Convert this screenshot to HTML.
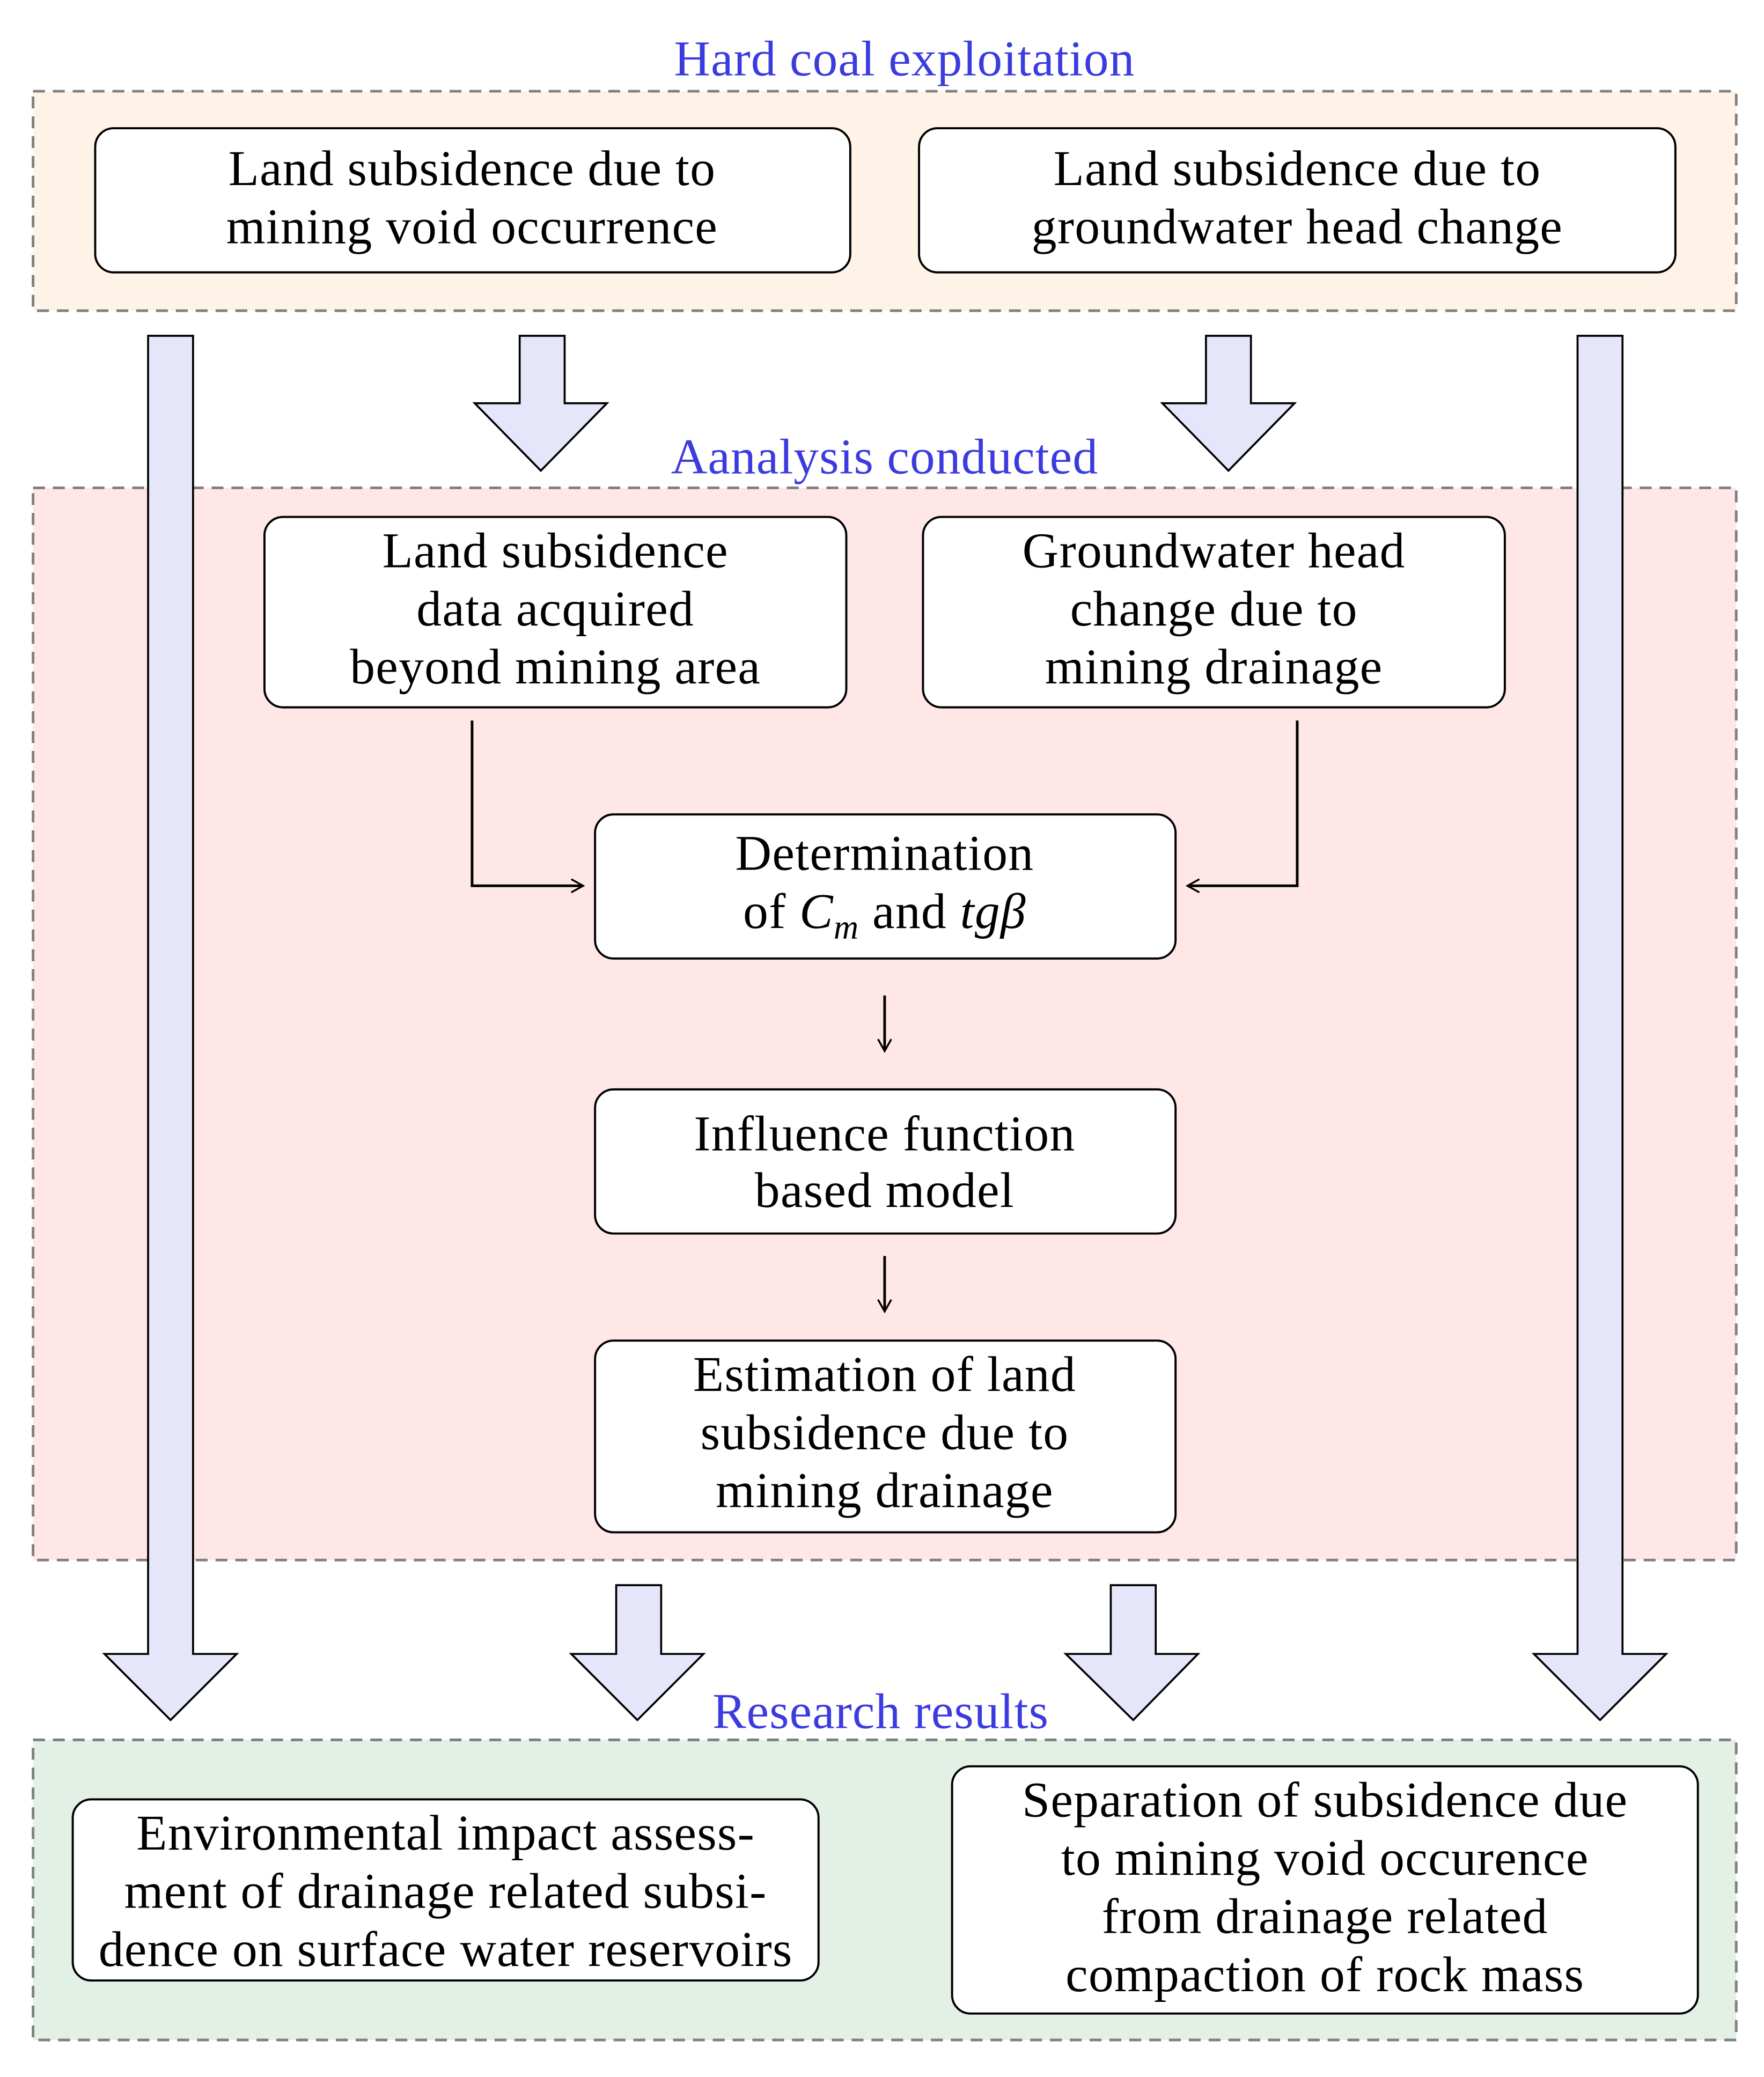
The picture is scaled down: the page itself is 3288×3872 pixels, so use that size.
<!DOCTYPE html>
<html><head><meta charset="utf-8"><style>
html,body{margin:0;padding:0;background:#fff;}
svg{display:block;}
text{font-family:"Liberation Serif",serif;font-size:38px;fill:#000;letter-spacing:0.5px;}
.t{fill:#3b3be0;font-size:38px;letter-spacing:0.4px;}
.n{fill:#fff;stroke:#000;stroke-width:1.6;}
.g{stroke:#808080;stroke-width:2;stroke-dasharray:9 6;}
.a{fill:#e6e6fb;stroke:#000;stroke-width:1.5;stroke-linejoin:miter;}
</style></head><body>
<svg width="3288" height="3872" viewBox="0 0 1334 1571" preserveAspectRatio="none">
<rect x="0" y="0" width="1334" height="1571" fill="#fff"/>
<rect class="g" x="25" y="69" width="1288" height="166" fill="#fff3e8"/>
<rect class="g" x="25" y="369" width="1288" height="811" fill="#ffe6e7"/>
<rect class="g" x="25" y="1316" width="1288" height="227" fill="#e2f0e5"/>
<text class="t" x="684" y="57" text-anchor="middle">Hard coal exploitation</text>
<text class="t" x="669" y="358" text-anchor="middle">Aanalysis conducted</text>
<text class="t" x="666" y="1307" text-anchor="middle">Research results</text>
<path class="a" d="M112,254 H146 V1251 H179 L129,1301 L79,1251 H112 Z"/>
<path class="a" d="M1193,254 H1227 V1251 H1260 L1210,1301 L1160,1251 H1193 Z"/>
<path class="a" d="M393,254 H427 V305 H459 L409,356 L359,305 H393 Z"/>
<path class="a" d="M912,254 H946 V305 H979 L929,356 L879,305 H912 Z"/>
<path class="a" d="M466,1199 H500 V1251 H532 L482,1301 L432,1251 H466 Z"/>
<path class="a" d="M840,1199 H874 V1251 H906 L857,1301 L806,1251 H840 Z"/>
<rect class="n" x="72" y="97" width="571" height="109" rx="14"/>
<text x="357" y="140" text-anchor="middle">Land subsidence due to</text>
<text x="357" y="184" text-anchor="middle">mining void occurrence</text>
<rect class="n" x="695" y="97" width="572" height="109" rx="14"/>
<text x="981" y="140" text-anchor="middle">Land subsidence due to</text>
<text x="981" y="184" text-anchor="middle">groundwater head change</text>
<rect class="n" x="200" y="391" width="440" height="144" rx="14"/>
<text x="420" y="429" text-anchor="middle">Land subsidence</text>
<text x="420" y="473" text-anchor="middle">data acquired</text>
<text x="420" y="517" text-anchor="middle">beyond mining area</text>
<rect class="n" x="698" y="391" width="440" height="144" rx="14"/>
<text x="918" y="429" text-anchor="middle">Groundwater head</text>
<text x="918" y="473" text-anchor="middle">change due to</text>
<text x="918" y="517" text-anchor="middle">mining drainage</text>
<path d="M357,545 V670 H440" fill="none" stroke="#000" stroke-width="2"/>
<path d="M432,665 L441,670 L432,675" fill="none" stroke="#000" stroke-width="1.4"/>
<path d="M981,545 V670 H899" fill="none" stroke="#000" stroke-width="2"/>
<path d="M907,665 L898,670 L907,675" fill="none" stroke="#000" stroke-width="1.4"/>
<rect class="n" x="450" y="616" width="439" height="109" rx="14"/>
<text x="669" y="658" text-anchor="middle">Determination</text>
<text x="669" y="702" text-anchor="middle">of <tspan font-style="italic">C</tspan><tspan font-style="italic" font-size="26" dy="8">m</tspan><tspan dy="-8"> and </tspan><tspan font-style="italic">tgβ</tspan></text>
<path d="M669,753 V794" stroke="#000" stroke-width="2"/>
<path d="M664,786 L669,795 L674,786" fill="none" stroke="#000" stroke-width="1.4"/>
<rect class="n" x="450" y="824" width="439" height="109" rx="14"/>
<text x="669" y="870" text-anchor="middle">Influence function</text>
<text x="669" y="913" text-anchor="middle">based model</text>
<path d="M669,950 V991" stroke="#000" stroke-width="2"/>
<path d="M664,983 L669,992 L674,983" fill="none" stroke="#000" stroke-width="1.4"/>
<rect class="n" x="450" y="1014" width="439" height="145" rx="14"/>
<text x="669" y="1052" text-anchor="middle">Estimation of land</text>
<text x="669" y="1096" text-anchor="middle">subsidence due to</text>
<text x="669" y="1140" text-anchor="middle">mining drainage</text>
<rect class="n" x="55" y="1361" width="564" height="137" rx="14"/>
<text x="337" y="1399" text-anchor="middle">Environmental impact assess-</text>
<text x="337" y="1443" text-anchor="middle">ment of drainage related subsi-</text>
<text x="337" y="1487" text-anchor="middle">dence on surface water reservoirs</text>
<rect class="n" x="720" y="1336" width="564" height="187" rx="14"/>
<text x="1002" y="1374" text-anchor="middle">Separation of subsidence due</text>
<text x="1002" y="1418" text-anchor="middle">to mining void occurence</text>
<text x="1002" y="1462" text-anchor="middle">from drainage related</text>
<text x="1002" y="1506" text-anchor="middle">compaction of rock mass</text>
</svg>
</body></html>
